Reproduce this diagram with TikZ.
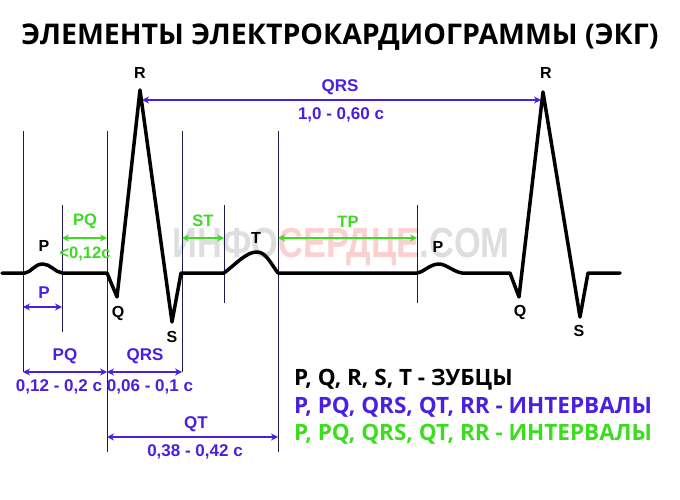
\documentclass[tikz,border=0pt]{standalone}
\usepackage{fontspec}
\setmainfont{Liberation Sans}
\newfontfamily\headfont{Open Sans}
\usetikzlibrary{positioning, arrows.meta}
\definecolor{ink}{HTML}{000000}
\definecolor{intBlue}{HTML}{4A1FE0}
\definecolor{intGreen}{HTML}{3CDC1E}
\definecolor{guideLine}{HTML}{1C1C4A}
\definecolor{markGray}{HTML}{DEDEDE}
\definecolor{markPink}{HTML}{FAD0D0}

\tikzset{
  wave/.style={draw=ink, line width=3.5pt, line join=round, line cap=round},
  guide/.style={draw=guideLine, line width=0.8pt},
  bluespan/.style={draw=intBlue, line width=1.8pt,
    {Stealth[length=7pt,width=7pt]}-{Stealth[length=7pt,width=7pt]}},
  greenspan/.style={draw=intGreen, line width=1.8pt,
    {Stealth[length=7pt,width=7pt]}-{Stealth[length=7pt,width=7pt]}},
  peak/.style={font=\bfseries\fontsize{16}{16}\selectfont, text=ink, inner sep=0pt},
  bluelbl/.style={font=\bfseries\fontsize{17}{17}\selectfont, text=intBlue, inner sep=0pt},
  greenlbl/.style={font=\bfseries\fontsize{16.5}{16.5}\selectfont, text=intGreen, inner sep=0pt},
  legend/.style={font=\headfont\bfseries\fontsize{22.5}{22.5}\selectfont, anchor=west, inner sep=0pt},
}

\begin{document}
\begin{tikzpicture}[x=1pt, y=-1pt]
  \useasboundingbox (0,0) rectangle (680,500);

  % watermark
  \node[font=\bfseries\fontsize{42}{42}\selectfont, inner sep=0pt] (mark) at (341,247)
    {\scalebox{0.82}[1]{\textcolor{markGray}{ИНФО}\textcolor{markPink}{СЕРДЦЕ}\textcolor{markGray}{.COM}}};

  % title
  \node[font=\headfont\bfseries\fontsize{28.5}{28.5}\selectfont, inner sep=0pt] (head) at (340,37)
    {ЭЛЕМЕНТЫ ЭЛЕКТРОКАРДИОГРАММЫ (ЭКГ)};

  % guide lines
  \foreach \gx/\gt/\gb in {23/131/372, 62/205/332, 107/131/452, 182/131/372,
                           224/205/303, 278/131/452, 417/205/303}
    \draw[guide] (\gx,\gt) -- (\gx,\gb);

  % teeth
  \coordinate (q1) at (117,297);
  \coordinate (r1) at (140,90);
  \coordinate (s1) at (172,322);
  \coordinate (t1) at (257,252);
  \coordinate (q2) at (519,297);
  \coordinate (r2) at (543,92);
  \coordinate (s2) at (580,317);

  \draw[wave] (2,273) -- (25,273)
    .. controls (32,272) and (34,264) .. (43,264)
    .. controls (50,264) and (55,272) .. (62,273)
    -- (107,273) -- (q1) -- (r1) -- (s1) -- (181,273) -- (224,273)
    .. controls (236,264) and (246,252) .. (t1)
    .. controls (266,252) and (271,264) .. (278,273)
    -- (417,273)
    .. controls (424,272) and (430,264) .. (439,264)
    .. controls (446,264) and (454,272) .. (462,273)
    -- (510,273) -- (q2) -- (r2) -- (s2) -- (588,273) -- (620,273);

  % tooth letters
  \node[peak] (lblP1) at (44,246) {P};
  \node[peak] (lblQ1) at (118,313) {Q};
  \node[peak] (lblR1) at (140,73) {R};
  \node[peak] (lblS1) at (172,337) {S};
  \node[peak] (lblT1) at (256,238) {T};
  \node[peak] (lblP2) at (438,247) {P};
  \node[peak] (lblQ2) at (520,312) {Q};
  \node[peak] (lblR2) at (546,73) {R};
  \node[peak] (lblS2) at (579,331) {S};

  % green spans
  \coordinate (pqA) at (62,238);  \coordinate (pqB) at (107,238);
  \coordinate (stA) at (182,238); \coordinate (stB) at (224,238);
  \coordinate (tpA) at (278,238); \coordinate (tpB) at (417,238);
  \draw[greenspan] (pqA) -- (pqB);
  \draw[greenspan] (stA) -- (stB);
  \draw[greenspan] (tpA) -- (tpB);
  \node[greenlbl] (lblPQg) at (85,221) {PQ};
  \node[greenlbl] (lblPQv) at (85,254) {<0,12c};
  \node[greenlbl] (lblST) at (203,221) {ST};
  \node[greenlbl] (lblTP) at (348,222) {TP};

  % blue spans
  \coordinate (pA) at (23,307);   \coordinate (pB) at (62,307);
  \coordinate (pqC) at (23,372);  \coordinate (pqD) at (107,372);
  \coordinate (qrsA) at (107,372); \coordinate (qrsB) at (182,372);
  \coordinate (qtA) at (107,437); \coordinate (qtB) at (278,437);
  \coordinate (rrA) at (142,100); \coordinate (rrB) at (541,100);
  \draw[bluespan] (pA) -- (pB);
  \draw[bluespan] (pqC) -- (pqD);
  \draw[bluespan] (qrsA) -- (qrsB);
  \draw[bluespan] (qtA) -- (qtB);
  \draw[bluespan] (rrA) -- (rrB);
  \node[bluelbl] (lblP) at (44,293) {P};
  \node[bluelbl] (lblPQ) at (65,356) {PQ};
  \node[bluelbl] (lblPQv) at (59,387) {0,12 - 0,2 c};
  \node[bluelbl] (lblQRS) at (145,356) {QRS};
  \node[bluelbl] (lblQRSv) at (150,387) {0,06 - 0,1 c};
  \node[bluelbl] (lblQT) at (196,424) {QT};
  \node[bluelbl] (lblQTv) at (195,452) {0,38 - 0,42 c};
  \node[bluelbl] (lblRR) at (340,87) {QRS};
  \node[bluelbl] (lblRRv) at (341,115) {1,0 - 0,60 c};

  % legend
  \node[legend, text=ink] (legTeeth) at (294,380) {P, Q, R, S, T - ЗУБЦЫ};
  \node[legend, text=intBlue] (legBlue) at (294,407) {P, PQ, QRS, QT, RR - ИНТЕРВАЛЫ};
  \node[legend, text=intGreen] (legGreen) at (294,434) {P, PQ, QRS, QT, RR - ИНТЕРВАЛЫ};
\end{tikzpicture}
\end{document}
